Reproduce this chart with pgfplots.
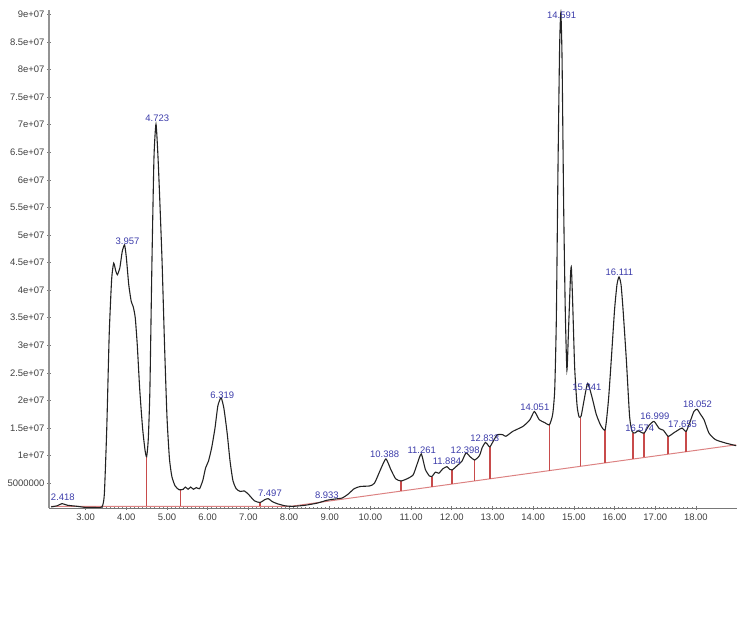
\documentclass[border=0pt]{standalone}
\usepackage{fontspec}
\setmainfont{Liberation Sans}
\usepackage{pgfplots}
\pgfplotsset{compat=1.18}

\definecolor{trace}{RGB}{35,35,35}
\definecolor{dropred}{RGB}{200,75,75}
\definecolor{basered}{RGB}{220,130,130}
\definecolor{peakblue}{RGB}{60,60,170}
\definecolor{axgray}{RGB}{120,120,120}

\begin{document}
\begin{tikzpicture}
\path[use as bounding box] (-49bp,-136bp) rectangle (690bp,508bp);
\begin{axis}[
    scale only axis,
    width=688bp, height=498bp,
    xmin=2.10, xmax=19.01,
    ymin=0.5e6, ymax=90.8e6,
    axis x line=bottom, axis y line=left,
    axis line style={-},
    x axis line style={axgray, line width=1pt},
    y axis line style={axgray!80, line width=2pt},
    xtick={3,...,18},
    xticklabels={3.00,4.00,5.00,6.00,7.00,8.00,9.00,10.00,11.00,12.00,13.00,14.00,15.00,16.00,17.00,18.00},
    ytick={5e6,10e6,15e6,20e6,25e6,30e6,35e6,40e6,45e6,50e6,55e6,60e6,65e6,70e6,75e6,80e6,85e6,90e6},
    yticklabels={5000000,1e+07,1.5e+07,2e+07,2.5e+07,3e+07,3.5e+07,4e+07,4.5e+07,5e+07,5.5e+07,6e+07,6.5e+07,7e+07,7.5e+07,8e+07,8.5e+07,9e+07},
    minor x tick num=9,
    minor y tick num=9,
    tick align=center,
    major tick length=4pt, minor tick length=2.5pt,
    every tick/.style={axgray, line width=0.6pt},
    tick label style={font=\fontsize{9.5}{10}\selectfont, text=black!75},
    xticklabel style={yshift=0pt},
    yticklabel style={xshift=1pt},
    unbounded coords=jump,
]
% integration baseline
\addplot[basered, line width=1pt] coordinates {
  (2.15,0.78e6) (8.02,0.78e6) (18.99,11.96e6)
};
% drop lines between integrated peaks
\addplot[dropred, line width=1.6pt] coordinates {
  (4.50,0.78e6) (4.50,9.8e6) (4.50,nan)
  (5.33,0.78e6) (5.33,3.8e6) (5.33,nan)
  (7.29,0.78e6) (7.29,1.5e6) (7.29,nan)
  (10.75,3.57e6) (10.75,5.4e6) (10.75,nan)
  (11.51,4.34e6) (11.51,6.2e6) (11.51,nan)
  (12.01,4.85e6) (12.01,7.4e6) (12.01,nan)
  (12.56,5.42e6) (12.56,9.2e6) (12.56,nan)
  (12.94,5.80e6) (12.94,11.6e6) (12.94,nan)
  (14.40,7.29e6) (14.40,15.6e6) (14.40,nan)
  (15.16,8.07e6) (15.16,16.8e6) (15.16,nan)
  (15.77,8.69e6) (15.77,14.7e6) (15.77,nan)
  (16.46,9.40e6) (16.46,14.1e6) (16.46,nan)
  (16.73,9.67e6) (16.73,14.1e6) (16.73,nan)
  (17.32,10.28e6) (17.32,13.5e6) (17.32,nan)
  (17.76,10.72e6) (17.76,14.4e6)
};
% total ion chromatogram
\addplot[trace, line width=1.1pt, smooth, tension=0.35] coordinates {
  (2.15,0.7e6) (2.30,0.9e6) (2.42,1.3e6) (2.55,1.0e6) (2.80,0.8e6)
  (3.00,0.6e6) (3.20,0.6e6) (3.40,0.7e6) (3.46,3e6) (3.52,15e6)
  (3.58,32e6) (3.64,42e6) (3.69,44.9e6) (3.74,43.5e6) (3.78,42.8e6)
  (3.84,44e6) (3.90,47e6) (3.957,48.2e6) (4.00,46e6) (4.06,41e6)
  (4.12,38e6) (4.17,37e6) (4.22,35e6) (4.27,30e6) (4.33,22e6)
  (4.40,15e6) (4.46,11e6) (4.50,9.8e6) (4.54,13e6) (4.58,22e6)
  (4.63,45e6) (4.68,64e6) (4.73,70.1e6) (4.78,64e6) (4.83,55e6)
  (4.88,45e6) (4.94,30e6) (5.00,17e6) (5.06,9.5e6) (5.12,6.2e6)
  (5.20,4.5e6) (5.30,3.8e6) (5.40,3.9e6) (5.45,4.3e6) (5.52,3.9e6)
  (5.58,4.3e6) (5.65,3.9e6) (5.72,4.2e6) (5.80,4.0e6) (5.88,5.5e6)
  (5.95,7.8e6) (6.02,9.0e6) (6.10,11.5e6) (6.18,15e6) (6.25,19e6)
  (6.33,20.5e6) (6.40,18.5e6) (6.48,14e6) (6.55,9e6) (6.62,5.5e6)
  (6.70,4.0e6) (6.80,3.5e6) (6.90,3.6e6) (7.00,3.0e6) (7.15,1.8e6)
  (7.29,1.5e6) (7.40,2.0e6) (7.49,2.2e6) (7.58,1.7e6) (7.70,1.3e6)
  (7.90,0.9e6) (8.10,0.8e6) (8.40,1.0e6) (8.70,1.4e6) (8.93,1.9e6)
  (9.10,2.1e6) (9.30,2.3e6) (9.45,3.0e6) (9.60,4.0e6) (9.75,4.4e6)
  (9.98,4.5e6) (10.10,5.0e6) (10.25,7.5e6) (10.38,9.4e6) (10.50,7.5e6)
  (10.62,5.8e6) (10.75,5.4e6) (10.90,5.8e6) (11.05,6.5e6) (11.15,8.5e6)
  (11.25,10.3e6) (11.35,7.5e6) (11.45,6.3e6) (11.51,6.2e6) (11.60,7.0e6)
  (11.68,6.8e6) (11.78,7.6e6) (11.88,8.0e6) (11.95,7.5e6) (12.01,7.4e6)
  (12.15,8.3e6) (12.25,9.0e6) (12.35,10.5e6) (12.45,9.8e6) (12.56,9.2e6)
  (12.68,10.0e6) (12.75,11.5e6) (12.83,12.4e6) (12.90,11.8e6) (12.94,11.6e6)
  (13.04,12.9e6) (13.12,13.8e6) (13.25,13.8e6) (13.33,13.5e6) (13.50,14.4e6)
  (13.75,15.3e6) (13.92,16.5e6) (14.03,18.0e6) (14.15,16.5e6) (14.28,16.0e6)
  (14.40,15.6e6) (14.48,17.5e6) (14.53,22e6) (14.57,35e6) (14.61,62e6)
  (14.65,84e6) (14.68,90.3e6) (14.71,82e6) (14.75,55e6) (14.79,36e6)
  (14.83,25.5e6) (14.87,33e6) (14.92,43e6) (14.94,44e6) (14.97,38e6)
  (15.02,26e6) (15.08,19e6) (15.13,17e6) (15.18,17.2e6) (15.25,20e6)
  (15.34,23.1e6) (15.45,20.5e6) (15.55,17.5e6) (15.66,15.5e6) (15.77,14.7e6)
  (15.85,20e6) (15.92,27.4e6) (16.00,36.4e6) (16.06,41e6) (16.11,42.4e6)
  (16.16,41e6) (16.21,36.4e6) (16.29,27.4e6) (16.37,17.1e6) (16.43,14.4e6)
  (16.50,14.1e6) (16.58,14.5e6) (16.66,14.2e6) (16.73,14.1e6) (16.85,15.5e6)
  (16.97,16.2e6) (17.10,14.9e6) (17.20,14.6e6) (17.32,13.5e6) (17.45,14.1e6)
  (17.60,14.8e6) (17.66,15.0e6) (17.76,14.4e6) (17.85,16e6) (17.95,18e6)
  (18.03,18.4e6) (18.12,17.4e6) (18.20,16.5e6) (18.32,14.1e6) (18.48,12.9e6)
  (18.72,12.3e6) (18.99,11.8e6)
};
% peak retention-time labels
\begin{scope}[every node/.style={font=\fontsize{9.5}{10}\selectfont, text=peakblue, inner sep=0pt}]
\node at (axis cs:2.44,2.5e6) {2.418};
\node at (axis cs:4.03,48.9e6) {3.957};
\node at (axis cs:4.76,71.2e6) {4.723};
\node at (axis cs:6.36,21.0e6) {6.319};
\node at (axis cs:7.53,3.1e6) {7.497};
\node at (axis cs:8.93,2.9e6) {8.933};
\node at (axis cs:10.35,10.3e6) {10.388};
\node at (axis cs:11.26,11.0e6) {11.261};
\node at (axis cs:11.88,8.9e6) {11.884};
\node at (axis cs:12.33,11.0e6) {12.398};
\node at (axis cs:12.81,13.1e6) {12.833};
\node at (axis cs:14.04,18.8e6) {14.051};
\node at (axis cs:14.70,89.9e6) {14.591};
\node at (axis cs:15.32,22.4e6) {15.341};
\node at (axis cs:16.12,43.2e6) {16.111};
\node at (axis cs:16.62,15.0e6) {16.574};
\node at (axis cs:16.99,17.1e6) {16.999};
\node at (axis cs:17.67,15.6e6) {17.655};
\node at (axis cs:18.04,19.4e6) {18.052};
\end{scope}
\draw[green!55!black!25, line width=0.8pt] (rel axis cs:0.041,-0.024) -- (rel axis cs:0.965,-0.024);
\end{axis}
\end{tikzpicture}
\end{document}
